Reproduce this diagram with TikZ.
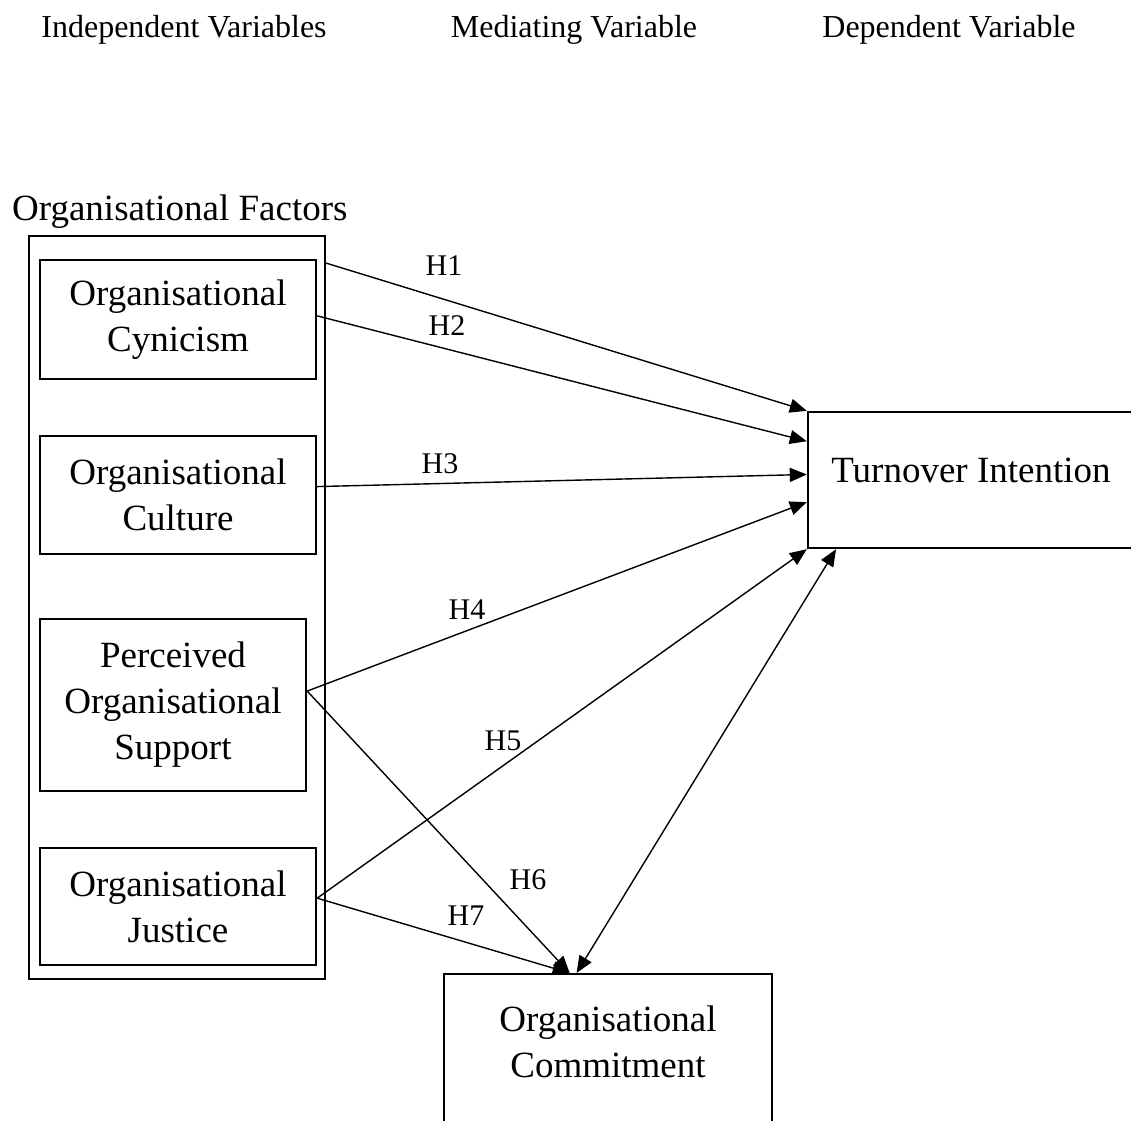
\documentclass[tikz,border=0pt]{standalone}
\usepackage{fontspec}
\setmainfont{Liberation Serif}
\usetikzlibrary{arrows.meta,calc}
\begin{document}
\begin{tikzpicture}[x=1pt,y=-1pt,
  boxfont/.style={font=\fontsize{37}{46}\selectfont},
  boxed/.style={draw, line width=2.4pt, align=center, inner sep=0pt, boxfont},
  frame/.style={draw, line width=2.4pt, inner sep=0pt},
  conn/.style={line width=1.4pt, -{Triangle[length=17pt,width=14pt]}},
  biconn/.style={line width=1.4pt, {Triangle[length=17pt,width=14pt]}-{Triangle[length=17pt,width=14pt]}},
  hlab/.style={font=\fontsize{30}{36}\selectfont, inner sep=0pt},
  head/.style={font=\fontsize{32}{38}\selectfont, inner sep=0pt, anchor=base}]
\useasboundingbox (0,0) rectangle (1131,1120);

% headers
\node[head] (iv) at (184,37) {Independent Variables};
\node[head] (mv) at (574,37) {Mediating Variable};
\node[head] (dv) at (949,37) {Dependent Variable};
\node[boxfont, anchor=base west, inner sep=0pt] (of) at (12,220) {Organisational Factors};

% group frame and factor boxes
\node[frame, minimum width=296pt, minimum height=743pt] (outer) at (177,607.5) {};
\node[boxed, minimum width=276pt, minimum height=119pt] (cyn) at (178,319.5) {Organisational\\Cynicism};
\node[boxed, minimum width=276pt, minimum height=118pt] (cul) at (178,495) {Organisational\\Culture};
\node[boxed, minimum width=266pt, minimum height=172pt] (pos) at (173,705) {Perceived\\Organisational\\Support};
\node[boxed, minimum width=276pt, minimum height=117pt] (jus) at (178,906.5) {Organisational\\Justice};

% outcome boxes
\node[frame, minimum width=326pt, minimum height=136pt,
  label={[boxfont, inner sep=0pt, yshift=10pt]center:Turnover Intention}] (turn) at (971,480) {};
\node[frame, minimum width=328pt, minimum height=220pt, anchor=north,
  label={[boxfont, align=center, inner sep=0pt, yshift=42pt]center:Organisational\\Commitment}] (com) at (608,973) {};

% connectors
\draw[conn] ($(outer.north east)!0.038!(outer.south east)$) -- (turn.north west);
\draw[conn] ($(cyn.north east)!0.47!(cyn.south east)$) -- ($(turn.north west)!0.22!(turn.south west)$);
\draw[conn] ($(cul.north east)!0.43!(cul.south east)$) -- ($(turn.north west)!0.46!(turn.south west)$);
\draw[conn] ($(pos.north east)!0.42!(pos.south east)$) -- ($(turn.north west)!0.66!(turn.south west)$);
\draw[conn] ($(jus.north east)!0.43!(jus.south east)$) -- (turn.south west);
\draw[conn] ($(pos.north east)!0.42!(pos.south east)$) -- ($(com.north west)!0.384!(com.north east)$);
\draw[conn] ($(jus.north east)!0.43!(jus.south east)$) -- ($(com.north west)!0.384!(com.north east)$);
\draw[biconn] ($(com.north west)!0.405!(com.north east)$) -- ($(turn.south west)!0.089!(turn.south east)$);

% hypothesis labels
\node[hlab] (h1) at (444,266) {H1};
\node[hlab] (h2) at (447,326) {H2};
\node[hlab] (h3) at (440,464) {H3};
\node[hlab] (h4) at (467,610) {H4};
\node[hlab] (h5) at (503,741) {H5};
\node[hlab] (h6) at (528,880) {H6};
\node[hlab] (h7) at (466,916) {H7};
\end{tikzpicture}
\end{document}
